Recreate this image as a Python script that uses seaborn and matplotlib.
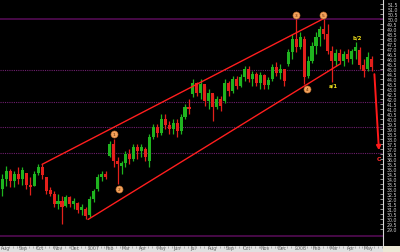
import numpy as np
import pandas as pd
import matplotlib
matplotlib.use("Agg")
import matplotlib.pyplot as plt
import seaborn as sns

# ---------------- data (weekly candles, price in $) ----------------
opens = [33.0, 34.0, 34.8, 33.8, 34.5, 34.0, 34.6, 33.4, 33.3, 34.6,
         35.2, 34.2, 32.9, 32.5, 31.5, 31.8, 31.3, 32.2, 31.5, 31.6,
         30.9, 31.0, 30.4, 32.0, 33.0, 34.2, 34.5, 36.3, 37.5, 35.8,
         35.3, 35.6, 36.5, 36.0, 37.2, 36.8, 37.0, 35.8, 38.2, 39.2,
         38.6, 40.0, 39.4, 39.0, 39.6, 38.8, 40.2, 41.2, 42.5, 43.6,
         42.6, 43.5, 41.8, 42.6, 41.2, 42.0, 41.8, 43.6, 42.8, 44.0,
         43.3, 44.2, 45.0, 44.0, 44.5, 43.6, 44.4, 43.4, 44.0, 45.2,
         44.6, 45.0, 45.5, 46.7, 48.0, 47.2, 48.0, 44.3, 45.8, 47.3,
         48.2, 49.0, 48.5, 46.8, 45.8, 46.6, 45.8, 46.5, 46.0, 46.8,
         46.9, 45.4, 45.0, 46.0]
highs = [34.5, 35.3, 35.0, 34.8, 35.2, 35.2, 34.5, 34.2, 34.8, 35.5,
         35.5, 34.2, 33.2, 32.8, 32.5, 32.3, 32.4, 32.3, 32.1, 31.7,
         31.5, 31.2, 32.3, 33.0, 34.5, 34.8, 34.8, 37.8, 38.0, 36.2,
         35.8, 36.8, 37.0, 37.5, 37.5, 37.5, 37.2, 38.5, 39.5, 39.5,
         40.5, 40.5, 39.8, 40.0, 40.0, 40.5, 41.5, 42.0, 44.0, 43.7,
         44.0, 43.3, 43.0, 42.5, 42.3, 42.3, 44.0, 43.8, 44.3, 44.3,
         44.5, 45.3, 45.3, 44.8, 44.7, 44.7, 44.5, 44.2, 45.5, 45.7,
         45.5, 45.0, 47.0, 48.5, 50.0, 48.7, 48.3, 46.3, 47.7, 48.7,
         49.3, 50.0, 49.5, 47.3, 47.0, 47.0, 46.8, 47.0, 47.0, 47.7,
         47.2, 46.0, 46.7, 46.3]
lows = [32.3, 33.3, 33.2, 33.2, 33.5, 33.4, 33.0, 32.4, 33.3, 34.4,
        34.0, 32.5, 32.3, 31.2, 31.0, 29.5, 31.2, 31.2, 31.0, 30.6,
        30.4, 30.0, 30.2, 31.7, 32.8, 33.8, 34.0, 36.2, 35.2, 33.5,
        34.5, 35.2, 35.5, 35.8, 36.0, 36.2, 35.8, 35.2, 38.0, 38.2,
        38.4, 39.0, 38.5, 38.5, 38.2, 38.5, 40.0, 40.5, 42.2, 42.3,
        42.0, 41.3, 41.0, 39.8, 41.0, 40.8, 41.6, 42.3, 42.6, 43.0,
        43.2, 43.8, 43.7, 43.3, 43.3, 43.0, 43.0, 43.0, 43.8, 44.3,
        44.0, 43.3, 45.3, 46.0, 46.7, 47.0, 43.5, 44.1, 45.6, 46.5,
        47.3, 48.0, 46.5, 43.7, 45.3, 45.5, 45.3, 45.7, 45.5, 46.0,
        45.0, 44.2, 44.8, 44.8]
closes = [34.0, 34.8, 33.8, 34.5, 34.0, 34.9, 33.4, 33.2, 34.5, 35.2,
          34.4, 32.8, 32.5, 31.5, 31.8, 31.2, 32.2, 31.5, 31.8, 30.9,
          31.2, 30.3, 32.0, 32.8, 34.2, 34.5, 34.2, 37.5, 35.8, 35.5,
          35.6, 36.5, 36.0, 37.2, 36.8, 37.2, 36.2, 38.2, 39.2, 38.6,
          40.0, 39.4, 39.0, 39.6, 38.8, 40.2, 41.2, 41.0, 43.6, 42.6,
          43.5, 41.8, 42.6, 41.2, 42.0, 41.3, 43.6, 42.8, 44.0, 43.3,
          44.2, 45.0, 44.0, 44.5, 43.6, 44.4, 43.4, 43.9, 45.2, 44.6,
          45.0, 43.8, 46.7, 48.0, 47.2, 48.2, 44.2, 45.8, 47.3, 48.2,
          49.0, 48.5, 46.8, 45.8, 46.6, 45.8, 46.5, 46.0, 46.8, 47.2,
          45.4, 44.8, 46.2, 45.2]

base_date = pd.Timestamp("2006-08-01")
first_week = pd.Timestamp("2006-08-03")

# horizontal reference levels
solid_levels = [50.0, 28.3]
dotted_levels = [44.9, 41.7, 39.2, 36.6]

# channel lines (date, price)
upper_dates = ["2006-10-12", "2008-02-19"]
upper_prices = [35.5, 50.0]
lower_dates = ["2007-01-01", "2008-03-20"]
lower_prices = [30.0, 45.5]

# wave labels
circle_labels = ["1", "2", "3", "4", "5"]
circle_dates = ["2007-02-16", "2007-02-25", "2008-01-03", "2008-01-23", "2008-02-19"]
circle_prices = [38.5, 33.0, 50.4, 43.0, 50.4]
text_labels = ["a/1", "b/2"]
text_dates = ["2008-03-08", "2008-04-20"]
text_prices = [43.4, 48.2]
arrow_dates = ["2008-05-20", "2008-05-28"]
arrow_prices = [44.5, 36.9]
target_label = "C"
target_date = "2008-05-28"
target_price = 36.1

month_names = ["Aug", "Sep", "Oct", "Nov", "Dec", "2007", "Feb", "Mar", "Apr",
               "May", "Jun", "Jul", "Aug", "Sep", "Oct", "Nov", "Dec", "2008",
               "Feb", "Mar", "Apr", "May"]

# ---------------- helpers ----------------
def days(d):
    return (pd.to_datetime(d) - base_date) / pd.Timedelta(days=1)

n = len(opens)
cdates = pd.date_range(first_week, periods=n, freq="7D")
x = np.array([days(d) for d in cdates])
o = np.array(opens); h = np.array(highs); l = np.array(lows); c = np.array(closes)
up = c >= o
GREEN = "#1fb41f"
RED = "#e3201b"
cols = np.where(up, GREEN, RED)

sns.set_theme(style="dark")
plt.rcParams["font.family"] = ["DejaVu Sans"]

W, H = 400, 253
fig = plt.figure(figsize=(W / 100, H / 100), dpi=100, facecolor="black")
strip_h = 6.5
axis_x = 383
ax = fig.add_axes([0, strip_h / H, axis_x / W, 1 - strip_h / H])
ax.set_facecolor("black")

xmin = -2.3
xmax = xmin + axis_x / 0.567
ax.set_xlim(xmin, xmax)
ax.set_ylim(27.4, 52.0)

# reference levels
for lv in solid_levels:
    ax.axhline(lv, color="#5a0d5a", lw=1.1, zorder=1)
for lv in dotted_levels:
    ax.axhline(lv, color="#6e1f6e", lw=0.8, ls=(0, (1, 1)), zorder=1)

# candles
ax.vlines(x, l, h, colors=cols, lw=0.9, zorder=3)
ax.bar(x, np.maximum(np.abs(c - o), 0.12), bottom=np.minimum(o, c), width=5.4,
       color=cols, linewidth=0, zorder=3)

# channel lines via seaborn
chan = pd.DataFrame({
    "x": [days(d) for d in upper_dates] + [days(d) for d in lower_dates],
    "y": upper_prices + lower_prices,
    "line": ["upper", "upper", "lower", "lower"],
})
sns.lineplot(data=chan, x="x", y="y", units="line", estimator=None,
             color="#ff1e1e", lw=1.0, ax=ax, zorder=4, legend=False)

# arrow to target
ax.annotate("", xy=(days(arrow_dates[1]), arrow_prices[1]),
            xytext=(days(arrow_dates[0]), arrow_prices[0]),
            arrowprops=dict(arrowstyle="-|>", color="#ff1a1a", lw=1.4,
                            mutation_scale=6, shrinkA=0, shrinkB=0), zorder=5)
ax.text(days(target_date), target_price, target_label, color="#ff2a2a",
        fontsize=4.5, fontweight="bold", ha="center", va="center", zorder=6)

# wave circles
cx = [days(d) for d in circle_dates]
ax.scatter(cx, circle_prices, s=26, color="#f4a25c", edgecolors="#b86a2a",
           linewidths=0.4, zorder=6)
for lab, xx, yy in zip(circle_labels, cx, circle_prices):
    ax.text(xx, yy, lab, fontsize=3.2, color="#5a2a00", ha="center",
            va="center", zorder=7)
for lab, d, yy in zip(text_labels, text_dates, text_prices):
    ax.text(days(d), yy, lab, fontsize=3.8, color="#f2e21c",
            fontweight="bold", ha="center", va="center", zorder=7)

# right price axis
ax.set_xlabel(""); ax.set_ylabel("")
ax.yaxis.tick_right()
yt = np.arange(29.0, 51.51, 0.5)
ax.set_yticks(yt)
ax.set_yticklabels([f"{v:.1f}" for v in yt])
ax.tick_params(axis="y", which="both", direction="in", length=2.0, width=0.5,
               colors="#cfcfcf", labelsize=3.4, pad=3, right=True, left=False)
ax.set_xticks([])
ax.grid(False)
for side in ["top", "left", "bottom"]:
    ax.spines[side].set_visible(False)
ax.spines["right"].set_color("#d8d8d8")
ax.spines["right"].set_linewidth(0.8)

# bottom date strip
axb = fig.add_axes([0, 0, axis_x / W, strip_h / H])
axb.set_facecolor("#e0e0e0")
axb.set_xlim(xmin, xmax)
axb.set_ylim(0, 1)
axb.set_yticks([])
mticks = [days(d) for d in pd.date_range("2006-08-01", periods=len(month_names), freq="MS")]
axb.set_xticks(mticks)
axb.set_xticklabels(month_names, ha="left")
wticks = [days(d) for d in pd.date_range("2006-08-01", "2008-06-05", freq="7D")]
axb.set_xticks(wticks, minor=True)
axb.tick_params(axis="x", which="both", top=True, bottom=False, direction="in",
                length=1.5, width=0.4, color="#7a7a7a", labelsize=3.4,
                labelcolor="#6a6a6a", pad=-5.2)
axb.grid(False)
for s in axb.spines.values():
    s.set_visible(False)

# bottom-right corner
axc = fig.add_axes([axis_x / W, 0, 1 - axis_x / W, strip_h / H])
axc.set_facecolor("#ece8d6")
axc.set_xticks([]); axc.set_yticks([])
for s in axc.spines.values():
    s.set_visible(False)

fig.savefig("out.png", dpi=100, facecolor="black")
